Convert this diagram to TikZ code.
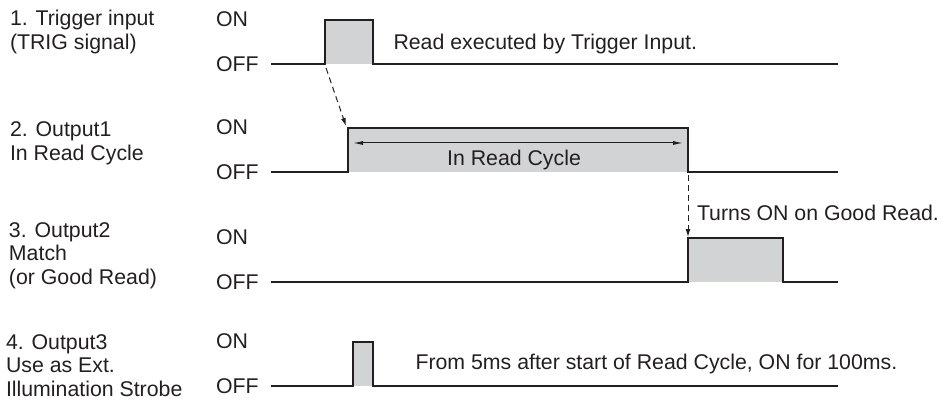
\documentclass[tikz,border=0pt]{standalone}
\usepackage{fontspec}
\setmainfont{Liberation Sans}
\usetikzlibrary{arrows.meta}
\definecolor{ink}{HTML}{231F20}
\definecolor{pulsegray}{HTML}{D1D3D4}
\begin{document}
\begin{tikzpicture}[x=1pt,y=-1pt,
  txt/.style={inner sep=0pt, outer sep=0pt, text=ink, font=\fontsize{21.3}{23.5}\selectfont},
  lbl/.style={txt, anchor=north west, align=left},
  lvl/.style={txt, anchor=west},
  note/.style={txt, anchor=base west},
  sig/.style={draw=ink, line width=2pt, line join=miter, line cap=rect},
  pulsefill/.style={fill=pulsegray},
  cue/.style={draw=ink, line width=1pt, dash pattern=on 6pt off 4pt, -{Latex[length=8pt,width=5pt]}},
  span/.style={draw=ink, line width=1pt, {Latex[length=10pt,width=4pt]}-{Latex[length=10pt,width=4pt]}}
]
\useasboundingbox (0,0) rectangle (941,406);

% ---------- left labels ----------
\node[lbl] (l1) at (10,10.5) {1. Trigger input\\(TRIG signal)};
\node[lbl] (l2) at (10,122) {2. Output1\\In Read Cycle};
\node[lbl] (l3) at (9,222.5) {3. Output2\\Match\\(or Good Read)};
\node[lbl] (l4) at (6,334.5) {4. Output3\\Use as Ext.\\Illumination Strobe};

% ---------- ON / OFF levels ----------
\node[lvl] (on1)  at (216,19)  {ON};
\node[lvl] (off1) at (216,64)  {OFF};
\node[lvl] (on2)  at (216,127) {ON};
\node[lvl] (off2) at (216,172) {OFF};
\node[lvl] (on3)  at (216,237) {ON};
\node[lvl] (off3) at (216,282) {OFF};
\node[lvl] (on4)  at (216,341) {ON};
\node[lvl] (off4) at (216,386) {OFF};

% ---------- row 1: trigger ----------
\coordinate (a1) at (272,64);
\coordinate (r1) at (325,64);
\coordinate (rt1) at (325,20);
\coordinate (ft1) at (373,20);
\coordinate (f1) at (373,64);
\coordinate (e1) at (837,64);
\fill[pulsefill] (r1) rectangle (ft1);
\draw[sig] (a1) -- (r1) -- (rt1) -- (ft1) -- (f1) -- (e1);

% ---------- row 2: in read cycle ----------
\coordinate (a2) at (272,172);
\coordinate (r2) at (348,172);
\coordinate (rt2) at (348,128);
\coordinate (ft2) at (688,128);
\coordinate (f2) at (688,172);
\coordinate (e2) at (837,172);
\fill[pulsefill] (r2) rectangle (ft2);
\draw[sig] (a2) -- (r2) -- (rt2) -- (ft2) -- (f2) -- (e2);

% ---------- row 3: good read ----------
\coordinate (a3) at (272,282);
\coordinate (r3) at (688,282);
\coordinate (rt3) at (688,238);
\coordinate (ft3) at (783,238);
\coordinate (f3) at (783,282);
\coordinate (e3) at (837,282);
\fill[pulsefill] (r3) rectangle (ft3);
\draw[sig] (a3) -- (r3) -- (rt3) -- (ft3) -- (f3) -- (e3);

% ---------- row 4: strobe ----------
\coordinate (a4) at (272,386);
\coordinate (r4) at (353,386);
\coordinate (rt4) at (353,342);
\coordinate (ft4) at (373,342);
\coordinate (f4) at (373,386);
\coordinate (e4) at (837,386);
\fill[pulsefill] (r4) rectangle (ft4);
\draw[sig] (a4) -- (r4) -- (rt4) -- (ft4) -- (f4) -- (e4);

% ---------- cause arrows ----------
\coordinate (d1s) at (326,68);
\coordinate (d1e) at (346,126);
\draw[cue] (d1s) -- (d1e);
\coordinate (d2s) at (688,175);
\coordinate (d2e) at (688,237);
\draw[cue] (d2s) -- (d2e);

% ---------- read cycle span ----------
\coordinate (sp1) at (353,143);
\coordinate (sp2) at (683,143);
\draw[span] (sp1) -- (sp2);

% ---------- notes ----------
\node[note] (n1) at (393.5,50) {Read executed by Trigger Input.};
\node[txt, anchor=base] (n2) at (514,165) {In Read Cycle};
\node[note] (n3) at (697,220) {Turns ON on Good Read.};
\node[note] (n4) at (415.5,369) {From 5ms after start of Read Cycle, ON for 100ms.};
\end{tikzpicture}
\end{document}
